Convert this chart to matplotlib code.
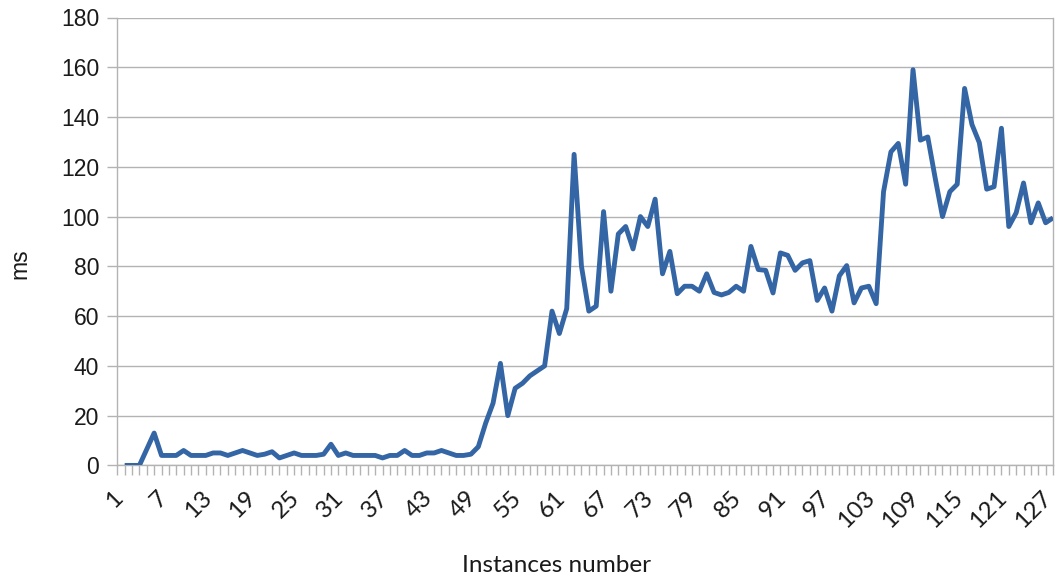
import matplotlib
matplotlib.use("Agg")
import matplotlib.pyplot as plt
import matplotlib.transforms as mtransforms

# Categories 1..128 on the axis; the series starts at category 2
categories = list(range(1, 129))
series_x = list(range(2, 129))
ms_values = [
    0, 0, 0, 6.5, 13, 4, 4, 4, 6, 4,
    4, 4, 5, 5, 4, 5, 6, 5, 4, 4.5,
    5.5, 3, 4, 5, 4, 4, 4, 4.5, 8.5, 4,
    5, 4, 4, 4, 4, 3, 4, 4, 6, 4,
    4, 5, 5, 6, 5, 4, 4, 4.5, 7.5, 17,
    25, 41, 20, 31, 33, 36, 38, 40, 62, 53,
    63, 125, 80, 62, 64, 102, 70, 93, 96, 87,
    100, 96, 107, 77, 86, 69, 72, 72, 70, 77,
    69.5, 68.5, 69.5, 72, 70, 88, 78.7, 78.4, 69.3, 85.4,
    84.4, 78.4, 81.4, 82.3, 66.3, 71.3, 62, 76.2, 80.3, 65.3,
    71.3, 72, 65, 110, 126, 129.4, 113, 159, 130.7, 132,
    115.6, 100, 110, 113, 151.5, 137, 129.7, 111, 112, 135.5,
    96, 101.5, 113.5, 97.5, 105.5, 97.5, 99.5,
]
x_tick_labels = [str(c) if (c - 1) % 6 == 0 else "" for c in categories]
y_ticks = [0, 20, 40, 60, 80, 100, 120, 140, 160, 180]

W, H = 1057, 583
fig = plt.figure(figsize=(W / 100, H / 100), dpi=100)
ax = fig.add_axes([117.3 / W, 1 - 465.4 / H, (1053 - 117.3) / W, (465.4 - 17.5) / H])

grid_c = "#b3b3b3"
text_c = "#1a1a1a"
ax.set_axisbelow(True)
ax.yaxis.grid(True, color=grid_c, linewidth=1.0)
ax.xaxis.grid(False)

ax.plot(series_x, ms_values, color="#3465a4", linewidth=3.5,
        solid_joinstyle="round", solid_capstyle="butt", zorder=3)

ax.set_xlim(1, 128)
ax.set_ylim(0, 180)
ax.set_yticks(y_ticks)
ax.set_yticklabels([str(v) for v in y_ticks], fontsize=16.5,
                   family=["Liberation Sans", "DejaVu Sans"], color=text_c)
ax.set_xticks(categories)
ax.set_xticklabels([])

# rotated category labels, anchored just below each tick
offset = mtransforms.ScaledTranslation(-5 / 100, -22 / 100, fig.dpi_scale_trans)
label_tr = ax.get_xaxis_transform() + offset
for c, lbl in zip(categories, x_tick_labels):
    if lbl:
        ax.text(c, 0, lbl, transform=label_tr, rotation=45, ha="right", va="top",
                rotation_mode="anchor", fontsize=17.5,
                family=["Lato", "DejaVu Sans"], color=text_c, clip_on=False)

ax.tick_params(axis="y", direction="out", length=7, width=1, color=grid_c, pad=6)
ax.tick_params(axis="x", direction="out", length=7, width=1, color=grid_c, pad=6)

for side in ["left", "bottom", "right"]:
    ax.spines[side].set_color(grid_c)
    ax.spines[side].set_linewidth(1.0)
ax.spines["top"].set_visible(False)

fig.text(20 / W, 1 - 264 / H, "ms", rotation=90, ha="center", va="center",
         fontsize=16.5, family=["Liberation Sans", "DejaVu Sans"], color=text_c)
fig.text(557 / W, 1 - 565 / H, "Instances number", ha="center", va="center",
         fontsize=17.5, family=["Lato", "DejaVu Sans"], color=text_c)

fig.savefig("out.png", dpi=100, facecolor="white")
